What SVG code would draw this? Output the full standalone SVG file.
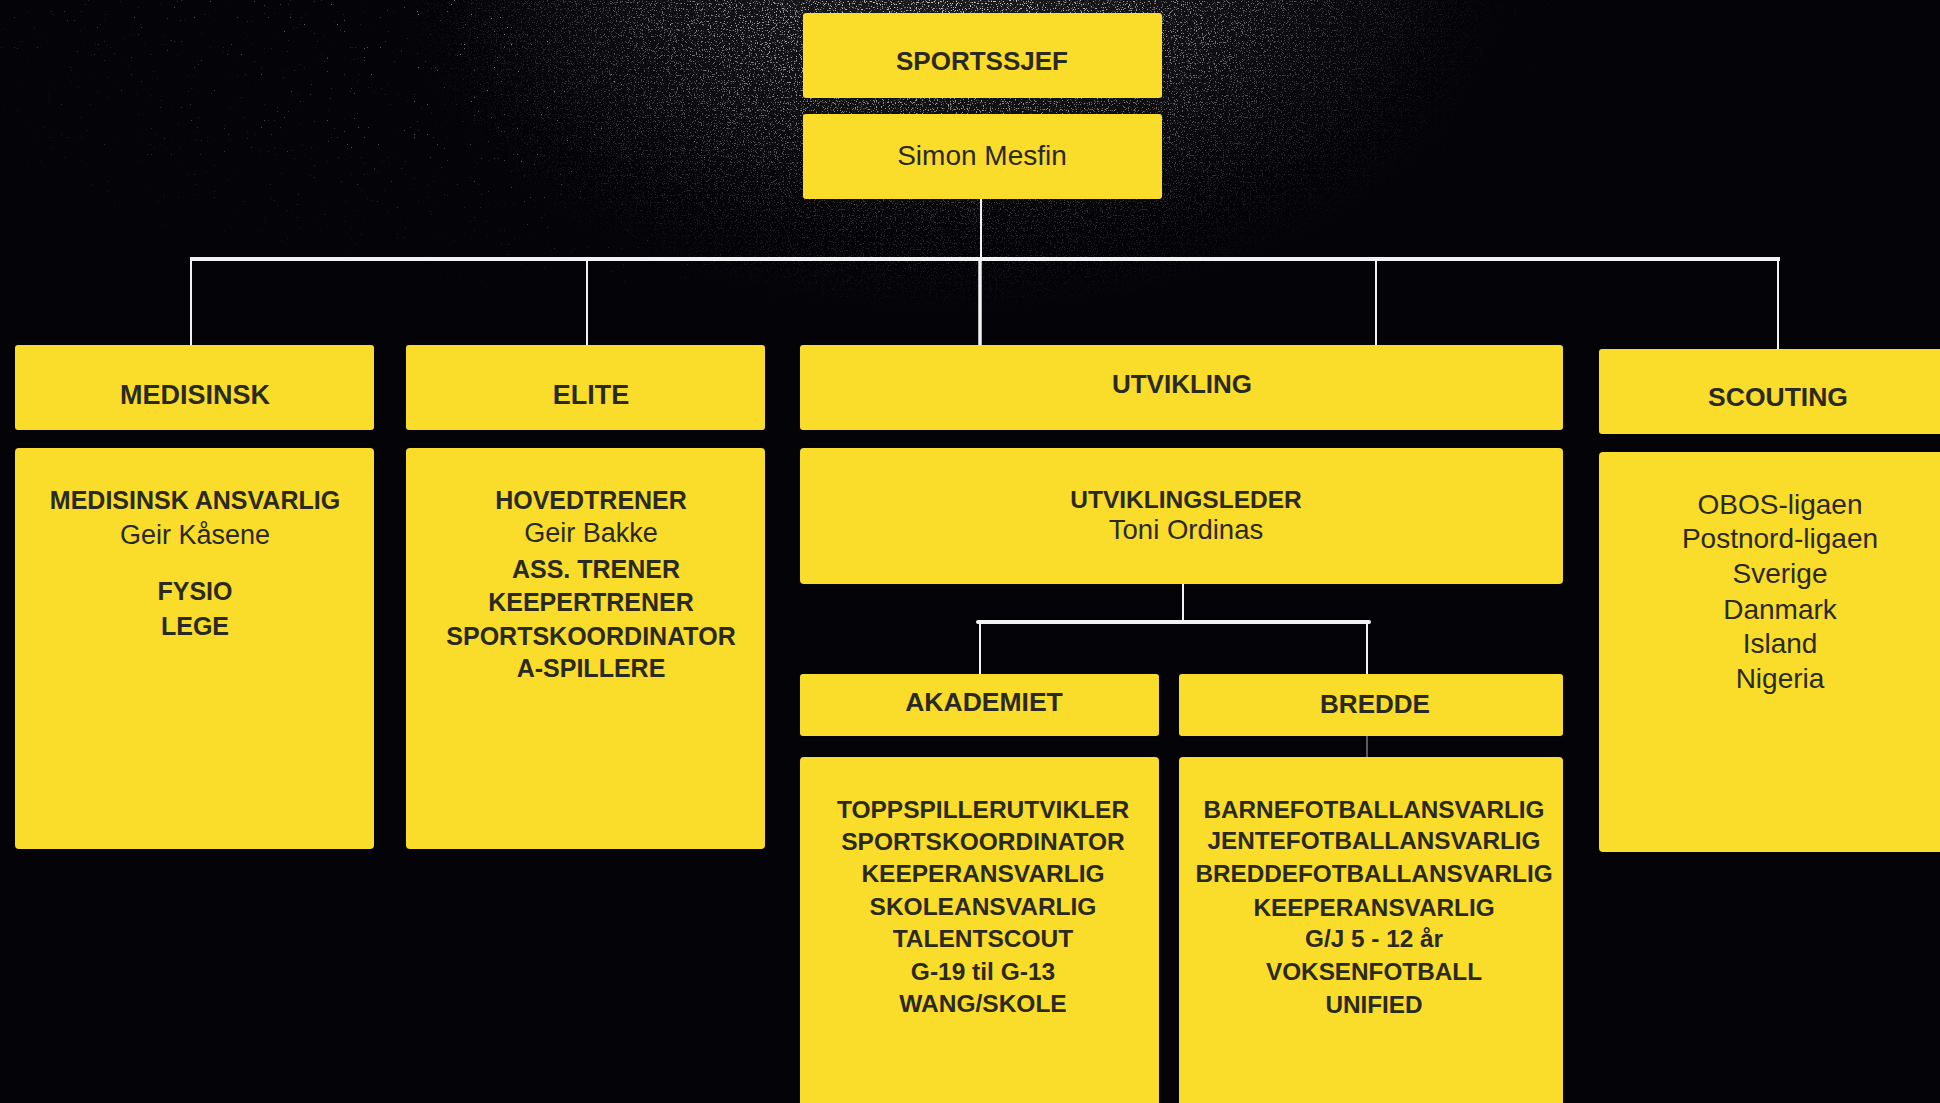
<svg xmlns="http://www.w3.org/2000/svg" width="1940" height="1103" viewBox="0 0 1940 1103">
<style>
.box{fill:#FADC2A;}
.b{font-family:"Liberation Sans",Arial,sans-serif;font-weight:bold;fill:#2a2a22;text-anchor:middle;}
.r{font-family:"Liberation Sans",Arial,sans-serif;font-weight:normal;fill:#2a2a22;text-anchor:middle;}
.ln{stroke:#f2f2f2;fill:none;}
</style>
<defs>
<radialGradient id="haze" cx="950" cy="-20" r="560" gradientUnits="userSpaceOnUse" gradientTransform="translate(950,-20) scale(1,0.6) translate(-950,20)">
<stop offset="0" stop-color="#fff" stop-opacity="1"/>
<stop offset="0.35" stop-color="#fff" stop-opacity="0.75"/>
<stop offset="0.7" stop-color="#fff" stop-opacity="0.25"/>
<stop offset="1" stop-color="#fff" stop-opacity="0"/>
</radialGradient>
<radialGradient id="wide" cx="700" cy="0" r="900" gradientUnits="userSpaceOnUse" gradientTransform="translate(700,0) scale(1,0.35) translate(-700,0)">
<stop offset="0" stop-color="#fff" stop-opacity="1"/>
<stop offset="1" stop-color="#fff" stop-opacity="0"/>
</radialGradient>
<radialGradient id="haze2" cx="950" cy="-20" r="520" gradientUnits="userSpaceOnUse" gradientTransform="translate(950,-20) scale(1,0.5) translate(-950,20)">
<stop offset="0" stop-color="#fff" stop-opacity="0.1"/>
<stop offset="1" stop-color="#fff" stop-opacity="0"/>
</radialGradient>
<mask id="m" maskUnits="userSpaceOnUse" x="0" y="0" width="1940" height="400">
<rect x="0" y="0" width="1940" height="400" fill="url(#haze)"/>
</mask>
<mask id="m2" maskUnits="userSpaceOnUse" x="0" y="0" width="1940" height="400">
<rect x="0" y="0" width="1940" height="400" fill="url(#wide)"/>
</mask>
<filter id="spk" x="0" y="0" width="100%" height="100%" filterUnits="objectBoundingBox">
<feTurbulence type="fractalNoise" baseFrequency="0.85" numOctaves="2" seed="7"/>
<feColorMatrix type="matrix" values="0 0 0 0 1  0 0 0 0 1  0 0 0 0 1  0 0 0 10 -6.0"/>
</filter>
<filter id="spk2" x="0" y="0" width="100%" height="100%" filterUnits="objectBoundingBox">
<feTurbulence type="fractalNoise" baseFrequency="0.7" numOctaves="1" seed="21"/>
<feColorMatrix type="matrix" values="0 0 0 0 1  0 0 0 0 1  0 0 0 0 1  0 0 0 14 -10.2"/>
</filter>
</defs>
<rect x="0" y="0" width="1940" height="1103" fill="#040408"/>
<g id="background-spray">
<rect x="0" y="0" width="1940" height="400" fill="url(#haze2)"/>
<rect x="0" y="0" width="1940" height="400" filter="url(#spk)" mask="url(#m)" opacity="0.8"/>
<rect x="0" y="0" width="1940" height="400" filter="url(#spk2)" mask="url(#m2)" opacity="0.7"/>
</g>
<g id="connectors">
<line class="ln" x1="981" y1="199" x2="981" y2="259" stroke-width="2"/>
<line class="ln" x1="190" y1="259" x2="1780" y2="259" stroke-width="4"/>
<line class="ln" x1="191" y1="259" x2="191" y2="345" stroke-width="2"/>
<line class="ln" x1="587" y1="259" x2="587" y2="345" stroke-width="2"/>
<line class="ln" x1="980" y1="259" x2="980" y2="345" stroke-width="3.5"/>
<line class="ln" x1="1376" y1="259" x2="1376" y2="345" stroke-width="2"/>
<line class="ln" x1="1778" y1="259" x2="1778" y2="349" stroke-width="2"/>
<line class="ln" x1="1183" y1="584" x2="1183" y2="622" stroke-width="2"/>
<line class="ln" x1="978" y1="622" x2="1369" y2="622" stroke-width="4" stroke-linecap="round"/>
<line class="ln" x1="980" y1="622" x2="980" y2="674" stroke-width="2"/>
<line class="ln" x1="1367" y1="622" x2="1367" y2="674" stroke-width="2"/>
<line class="ln" x1="1367" y1="736" x2="1367" y2="757" stroke-width="1.5" opacity="0.5"/>
</g>
<g id="sportssjef">
<rect class="box" x="803" y="13" width="359" height="85" rx="3"/>
<text class="b" x="982" y="70" font-size="26">SPORTSSJEF</text>
</g>
<g id="simon">
<rect class="box" x="803" y="114" width="359" height="85" rx="3"/>
<text class="r" x="982" y="165" font-size="28">Simon Mesfin</text>
</g>
<g id="medisinsk">
<rect class="box" x="15" y="345" width="359" height="85" rx="3"/>
<text class="b" x="195" y="404" font-size="27">MEDISINSK</text>
</g>
<g id="medisinsk-body">
<rect class="box" x="15" y="448" width="359" height="401" rx="4"/>
<text class="b" x="195" y="509" font-size="25">MEDISINSK ANSVARLIG</text>
<text class="r" x="195" y="544" font-size="27">Geir Kåsene</text>
<text class="b" x="195" y="600" font-size="25">FYSIO</text>
<text class="b" x="195" y="635" font-size="25">LEGE</text>
</g>
<g id="elite">
<rect class="box" x="406" y="345" width="359" height="85" rx="3"/>
<text class="b" x="591" y="404" font-size="27">ELITE</text>
</g>
<g id="elite-body">
<rect class="box" x="406" y="448" width="359" height="401" rx="4"/>
<text class="b" x="591" y="509" font-size="25">HOVEDTRENER</text>
<text class="r" x="591" y="542" font-size="27">Geir Bakke</text>
<text class="b" x="596" y="578" font-size="25">ASS. TRENER</text>
<text class="b" x="591" y="611" font-size="25">KEEPERTRENER</text>
<text class="b" x="591" y="645" font-size="25">SPORTSKOORDINATOR</text>
<text class="b" x="591" y="677" font-size="25">A-SPILLERE</text>
</g>
<g id="utvikling">
<rect class="box" x="800" y="345" width="763" height="85" rx="3"/>
<text class="b" x="1182" y="393" font-size="26">UTVIKLING</text>
</g>
<g id="utviklingsleder">
<rect class="box" x="800" y="448" width="763" height="136" rx="4"/>
<text class="b" x="1186" y="508" font-size="24.5">UTVIKLINGSLEDER</text>
<text class="r" x="1186" y="539" font-size="27.5">Toni Ordinas</text>
</g>
<g id="akademiet">
<rect class="box" x="800" y="674" width="359" height="62" rx="3"/>
<text class="b" x="984" y="711" font-size="26.5">AKADEMIET</text>
</g>
<g id="akademiet-body">
<rect class="box" x="800" y="757" width="359" height="360" rx="4"/>
<text class="b" x="983" y="818" font-size="24.5">TOPPSPILLERUTVIKLER</text>
<text class="b" x="983" y="850" font-size="24.5">SPORTSKOORDINATOR</text>
<text class="b" x="983" y="882" font-size="24.5">KEEPERANSVARLIG</text>
<text class="b" x="983" y="915" font-size="24.5">SKOLEANSVARLIG</text>
<text class="b" x="983" y="947" font-size="24.5">TALENTSCOUT</text>
<text class="b" x="983" y="980" font-size="24.5">G-19 til G-13</text>
<text class="b" x="983" y="1012" font-size="24.5">WANG/SKOLE</text>
</g>
<g id="bredde">
<rect class="box" x="1179" y="674" width="384" height="62" rx="3"/>
<text class="b" x="1375" y="713" font-size="26">BREDDE</text>
</g>
<g id="bredde-body">
<rect class="box" x="1179" y="757" width="384" height="360" rx="4"/>
<text class="b" x="1374" y="818" font-size="24.3">BARNEFOTBALLANSVARLIG</text>
<text class="b" x="1374" y="849" font-size="24.3">JENTEFOTBALLANSVARLIG</text>
<text class="b" x="1374" y="882" font-size="24.3">BREDDEFOTBALLANSVARLIG</text>
<text class="b" x="1374" y="916" font-size="24.3">KEEPERANSVARLIG</text>
<text class="b" x="1374" y="947" font-size="24.3">G/J 5 - 12 år</text>
<text class="b" x="1374" y="980" font-size="24.3">VOKSENFOTBALL</text>
<text class="b" x="1374" y="1013" font-size="24.3">UNIFIED</text>
</g>
<g id="scouting">
<rect class="box" x="1599" y="349" width="360" height="85" rx="3"/>
<text class="b" x="1778" y="406" font-size="26.5">SCOUTING</text>
</g>
<g id="scouting-body">
<rect class="box" x="1599" y="452" width="360" height="400" rx="4"/>
<text class="r" x="1780" y="514" font-size="28">OBOS-ligaen</text>
<text class="r" x="1780" y="548" font-size="28">Postnord-ligaen</text>
<text class="r" x="1780" y="583" font-size="28">Sverige</text>
<text class="r" x="1780" y="619" font-size="28">Danmark</text>
<text class="r" x="1780" y="653" font-size="28">Island</text>
<text class="r" x="1780" y="688" font-size="28">Nigeria</text>
</g>
</svg>
